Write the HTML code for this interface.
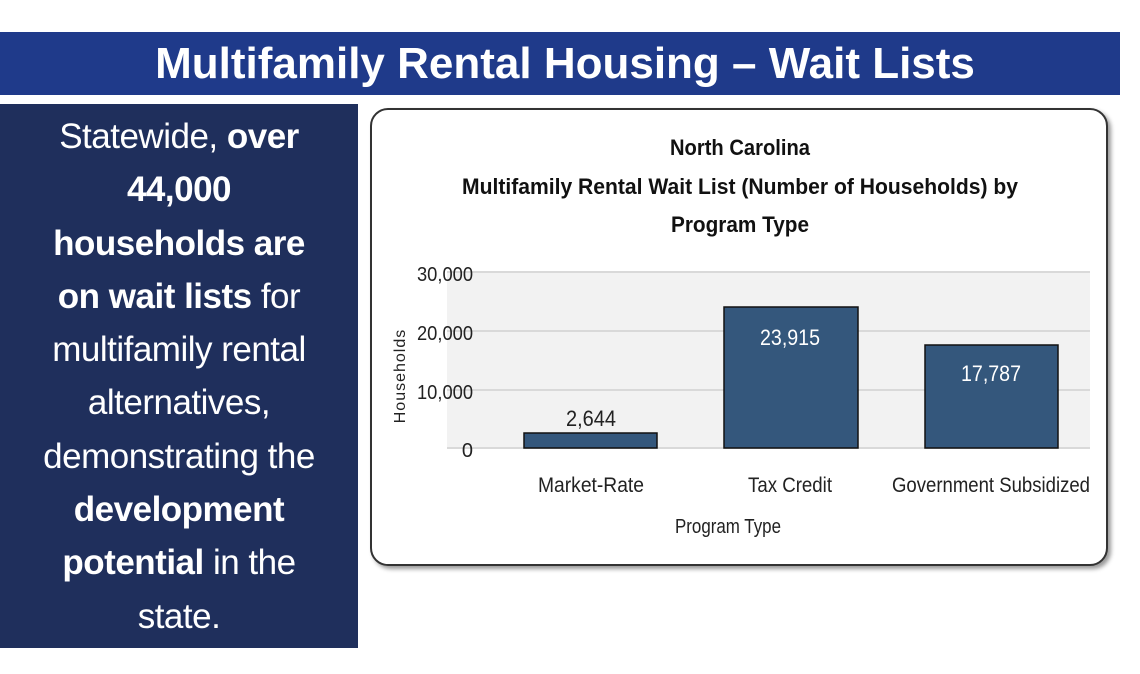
<!DOCTYPE html>
<html><head><style>
body{margin:0;width:1140px;height:674px;background:#fff;position:relative;overflow:hidden;font-family:"Liberation Sans",sans-serif}
#bar{position:absolute;left:0;top:32px;width:1120px;height:63px;background:#1f3a8a;color:#fff;font-weight:bold;font-size:44px;text-align:center;line-height:63px;padding-left:10px;box-sizing:border-box}
#left{position:absolute;left:0;top:104px;width:358px;height:544px;background:#1f2f5c;color:#fff;font-size:35px;text-align:center;line-height:53.3px;padding-top:6px;box-sizing:border-box;letter-spacing:-0.5px}
#box{position:absolute;left:370px;top:108px;width:738px;height:458px;border:2px solid #333;border-radius:18px;box-shadow:3px 3px 4px #999;background:#fff;box-sizing:border-box}
</style></head><body>
<div id="bar">Multifamily Rental Housing – Wait Lists</div>
<div id="left">Statewide, <b>over<br>44,000<br>households are<br>on wait lists</b> for<br>multifamily rental<br>alternatives,<br>demonstrating the<br><b>development<br>potential</b> in the<br>state.</div>
<div id="box"></div>
<svg style="position:absolute;left:0;top:0" width="1140" height="674" font-family="Liberation Sans, sans-serif">
<g text-anchor="middle" font-weight="bold" font-size="22" fill="#111">
<text x="740" y="155" textLength="140" lengthAdjust="spacingAndGlyphs">North Carolina</text>
<text x="740" y="194" textLength="556" lengthAdjust="spacingAndGlyphs">Multifamily Rental Wait List (Number of Households) by</text>
<text x="740" y="232" textLength="138" lengthAdjust="spacingAndGlyphs">Program Type</text>
</g>
<rect x="447" y="272" width="643" height="176" fill="#f2f2f2"/>
<g stroke="#d9d9d9" stroke-width="2"><line x1="447" y1="272" x2="1090" y2="272"/><line x1="447" y1="331" x2="1090" y2="331"/><line x1="447" y1="390" x2="1090" y2="390"/><line x1="447" y1="448" x2="1090" y2="448"/></g>
<g font-size="20" fill="#222" text-anchor="end">
<text x="473" y="281" textLength="56" lengthAdjust="spacingAndGlyphs">30,000</text><text x="473" y="340" textLength="56" lengthAdjust="spacingAndGlyphs">20,000</text><text x="473" y="399" textLength="56" lengthAdjust="spacingAndGlyphs">10,000</text><text x="473" y="457">0</text>
</g>
<text transform="translate(405,376) rotate(-90)" font-size="16" fill="#222" text-anchor="middle" letter-spacing="1">Households</text>
<g fill="#34577c" stroke="#111" stroke-width="1.5">
<rect x="524" y="433" width="133" height="15"/>
<rect x="724" y="307" width="134" height="141"/>
<rect x="925" y="345" width="133" height="103"/>
</g>
<g font-size="22" text-anchor="middle">
<text x="591" y="426" fill="#222" textLength="50" lengthAdjust="spacingAndGlyphs">2,644</text>
<text x="790" y="345" fill="#fff" textLength="60" lengthAdjust="spacingAndGlyphs">23,915</text>
<text x="991" y="381" fill="#fff" textLength="60" lengthAdjust="spacingAndGlyphs">17,787</text>
</g>
<g font-size="21" text-anchor="middle" fill="#222">
<text x="591" y="492" textLength="106" lengthAdjust="spacingAndGlyphs">Market-Rate</text>
<text x="790" y="492" textLength="84" lengthAdjust="spacingAndGlyphs">Tax Credit</text>
<text x="991" y="492" textLength="198" lengthAdjust="spacingAndGlyphs">Government Subsidized</text>
<text x="728" y="533" font-size="20" textLength="106" lengthAdjust="spacingAndGlyphs">Program Type</text>
</g>
</svg>
</body></html>
